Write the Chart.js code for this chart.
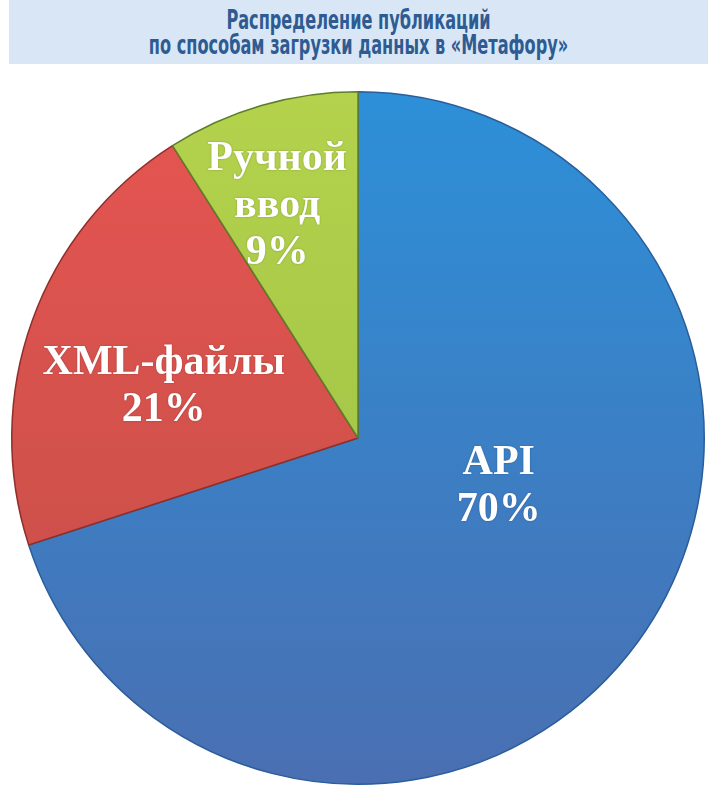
<!DOCTYPE html>
<html>
<head>
<meta charset="utf-8">
<script src="https://cdn.jsdelivr.net/npm/chart.js@4/dist/chart.umd.min.js"></script>
<style>
  body { margin: 0; background: #fff; }
  #wrap { position: relative; width: 716px; height: 800px; }
  #chart { position: absolute; left: 0; top: 0; }
  #title {
    position: absolute; left: 9px; top: 0; width: 699px; height: 64px;
    background: #d8e6f5; z-index: 2;
  }
  #title span {
    display: block; color: #2d5b92;
    font-family: "DejaVu Sans Condensed", "Liberation Sans Narrow", sans-serif;
    font-weight: bold; font-size: 26px; line-height: 25px;
    text-align: center; padding-top: 8px;
    transform: scaleX(0.69); transform-origin: 50% 0;
  }
</style>
</head>
<body>
<div id="wrap">
  <div id="title"><span>Распределение публикаций<br>по способам загрузки данных в «Метафору»</span></div>
  <canvas id="chart" width="716" height="800"></canvas>
</div>
<script>
// chart data
const categories = ["API", "XML-файлы", "Ручной ввод"];
const shares = [70, 21, 9];
const labelLines = [["API", "70%"], ["XML-файлы", "21%"], ["Ручной", "ввод", "9%"]];

// colours top / bottom of each slice
const topColors = ["#2c90d8", "#e65552", "#b4d24c"];
const bottomColors = ["#4a6fb2", "#c24e46", "#98bd44"];
const edgeColors = ["#2a5d9a", "#8e2f2c", "#5d7d2a"];

// label placement: fraction of radius and angle shift (deg) from slice middle
const labelPlace = [[0.43, -17], [0.58, -5], [0.71, -3]];

sliceFill = (ctx) => {
    const area = ctx.chart.chartArea;
    if (!area) return topColors[ctx.dataIndex];
    const g = ctx.chart.ctx.createLinearGradient(0, area.top, 0, area.bottom);
    g.addColorStop(0, topColors[ctx.dataIndex]);
    g.addColorStop(1, bottomColors[ctx.dataIndex]);
    return g;
};

const sliceLabels = {
    id: "sliceLabels",
    afterDatasetsDraw(chart) {
        const c = chart.ctx;
        const meta = chart.getDatasetMeta(0);
        meta.data.forEach((arc, i) => {
            const p = arc.getProps(["x", "y", "startAngle", "endAngle", "outerRadius"], true);
            const mid = (p.startAngle + p.endAngle) / 2 + labelPlace[i][1] * Math.PI / 180;
            const r = p.outerRadius * labelPlace[i][0];
            const cx = p.x + Math.cos(mid) * r;
            const cy = p.y + Math.sin(mid) * r;
            const lines = labelLines[i];
            const lh = 47;
            c.save();
            c.fillStyle = "#ffffff";
            c.font = "bold 42px 'Liberation Serif', 'DejaVu Serif', serif";
            c.textAlign = "center";
            c.textBaseline = "middle";
            c.shadowColor = "rgba(0,0,0,0.25)";
            c.shadowBlur = 2;
            lines.forEach((t, k) => {
                c.fillText(t, cx, cy + (k - (lines.length - 1) / 2) * lh);
            });
            c.restore();
        });
    }
};

new Chart("chart", {
    type: "pie",
    data: {
        labels: categories,
        datasets: [{
            data: shares,
            backgroundColor: sliceFill,
            borderColor: edgeColors,
            borderWidth: 1.5
        }]
    },
    options: {
        responsive: false,
        animation: false,
        layout: { padding: { left: 11, right: 11, top: 91, bottom: 15 } },
        plugins: {
            legend: { display: false },
            tooltip: { enabled: false }
        }
    },
    plugins: [sliceLabels]
});
</script>
</body>
</html>
